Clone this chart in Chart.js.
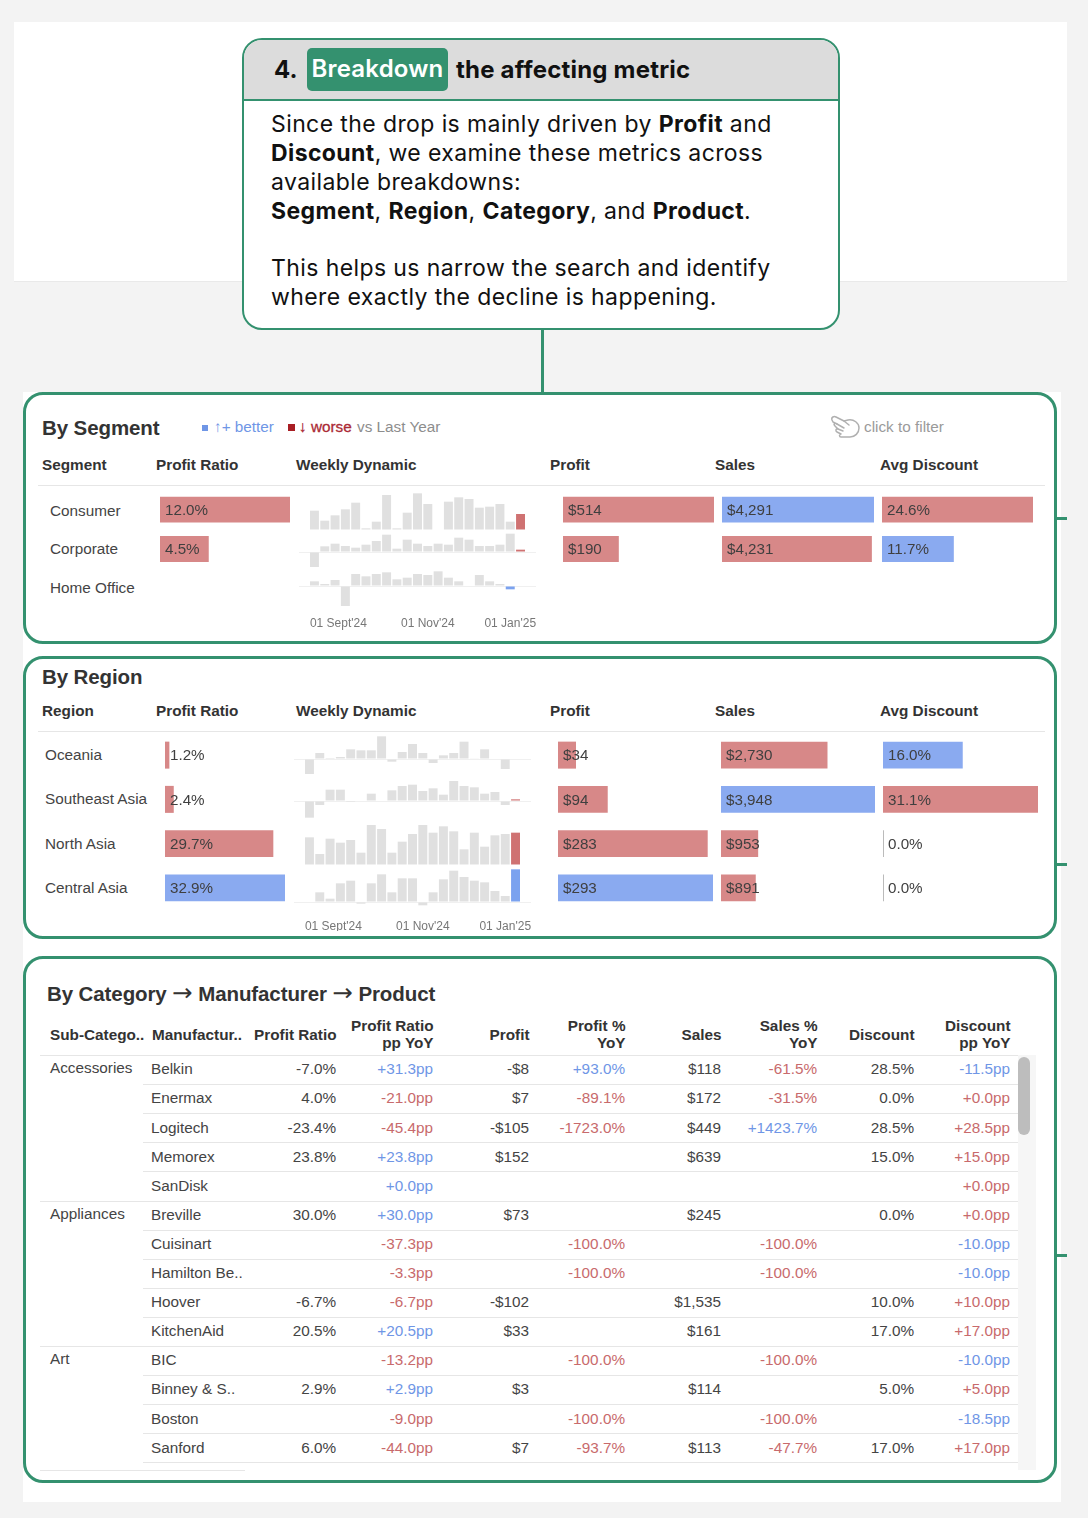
<!DOCTYPE html>
<html>
<head>
<meta charset="utf-8">
<title>Breakdown the affecting metric</title>
<script src="https://cdn.jsdelivr.net/npm/chart.js@4"></script>
<style>
html, body { margin: 0; padding: 0; background: #f3f3f3; }
#page { position: relative; width: 1088px; height: 1518px; overflow: hidden; font-family: "Liberation Sans", Arial, sans-serif; color: #444; }
#page > * { position: absolute; box-sizing: border-box; }
.white { background: #fff; }
.green { background: #34916f; }
.panel { border: 3.5px solid #34916f; border-radius: 20px; left: 23px; width: 1034px; }
#callout { left: 242px; top: 38px; width: 598px; height: 292px; border: 2px solid #34916f; border-radius: 20px; background: #fff; overflow: hidden; font-family: Inter, sans-serif; color: #111; }
#calloutHead { position: absolute; left: 0; top: 0; right: 0; height: 59px; background: #dcdcdc; border-bottom: 2px solid #34916f; font-size: 24px; font-weight: 700; }
#calloutHead span { position: absolute; top: 15px; white-space: nowrap; }
#badge { left: 63px; top: 8px !important; width: 141px; height: 43px; background: #34916f; border-radius: 5px; color: #fff; text-align: center; line-height: 42px; font-weight: 600; letter-spacing: 0.2px; }
#calloutBody { position: absolute; left: 27px; top: 70px; font-size: 23px; line-height: 28.9px; letter-spacing: 0.4px; }
#calloutBody div { height: 28.9px; white-space: nowrap; }
#calloutBody b { font-weight: 700; }
.title { font-weight: 700; font-size: 20.5px; color: #333; white-space: nowrap; letter-spacing: -0.1px; }
.head { font-weight: 700; font-size: 15.3px; color: #333; white-space: nowrap; line-height: 17px; }
.cell { font-size: 15.3px; color: #444; white-space: nowrap; line-height: 18px; }
.rule { background: #e6e6e6; height: 1px; }
.better { color: #6f96e6; }
.worse { color: #c86a6c; }
canvas { display: block; }
</style>
</head>
<body>
<div id="page"></div>
<script>
// week axis, one leading and one trailing empty week
const weekLabels = ["", "", "", "01 Sept'24", "", "", "", "", "", "", "", "", "01 Nov'24", "", "", "", "", "", "", "", "01 Jan'25", "", ""];

// By Segment
const segments = ["Consumer", "Corporate", "Home Office"];
const segmentProfitRatio = [12.0, 4.5, null];
const segmentProfitRatioStatus = ["worse", "worse", null];
const segmentProfit = [514, 190, null];
const segmentProfitStatus = ["worse", "worse", null];
const segmentSales = [4291, 4231, null];
const segmentSalesStatus = ["better", "worse", null];
const segmentDiscount = [24.6, 11.7, null];
const segmentDiscountStatus = ["worse", "better", null];
const segmentCurrentWeek = [21, 21, 20];
const segmentCurrentStatus = ["worse", "worse", "better"];
const weeklyConsumer = [null, 58, 28, 44, 62, 82, 5, 25, 105, 5, 52, 110, 78, null, 85, 98, 93, 67, 70, 78, 25, 48, null];
const weeklyCorporate = [null, -45, 17, 25, 18, 13, 22, 33, 52, 10, 37, 25, 18, 25, 22, 43, 37, 18, 18, 22, 55, 7, null];
const weeklyHomeOffice = [null, 14, 6, 18, -60, 36, 29, 36, 41, 20, 25, 36, 33, 44, 25, 14, null, 33, 14, 6, -10, null, null];

// By Region
const regions = ["Oceania", "Southeast Asia", "North Asia", "Central Asia"];
const regionProfitRatio = [1.2, 2.4, 29.7, 32.9];
const regionProfitRatioStatus = ["worse", "worse", "worse", "better"];
const regionProfit = [34, 94, 283, 293];
const regionProfitStatus = ["worse", "worse", "worse", "better"];
const regionSales = [2730, 3948, 953, 891];
const regionSalesStatus = ["worse", "better", "worse", "worse"];
const regionDiscount = [16.0, 31.1, 0.0, 0.0];
const regionDiscountStatus = ["better", "worse", null, null];
const regionCurrentWeek = [21, 21, 21, 21];
const regionCurrentStatus = ["worse", "worse", "worse", "better"];
const weeklyOceania = [null, -45, 18, 3, 6, 29, 26, 26, 68, -8, 21, 45, 18, -12, 11, 18, 52, 2, 29, null, -30, null, null];
const weeklySoutheastAsia = [null, -50, -12, 34, 34, -3, null, 22, null, 32, 45, 49, 30, 38, 19, 60, 45, 41, 22, 27, -12, 5, null];
const weeklyNorthAsia = [null, 83, 33, 79, 67, 75, 37, 120, 108, 37, 70, 93, 120, 97, 116, 101, 47, 97, 55, 89, 93, 97, null];
const weeklyCentralAsia = [null, null, 29, 10, 56, 64, -5, 56, 83, 29, 71, 71, -10, 29, 68, 94, 75, 64, 59, 33, 18, 98, null];

// By Category -> Manufacturer -> Product
const tableHeaders = ["Profit Ratio", "Profit Ratio\npp YoY", "Profit", "Profit %\nYoY", "Sales", "Sales %\nYoY", "Discount", "Discount\npp YoY"];
const subCategories = ["Accessories", "", "", "", "", "Appliances", "", "", "", "", "Art", "", "", ""];
const manufacturers = ["Belkin", "Enermax", "Logitech", "Memorex", "SanDisk", "Breville", "Cuisinart", "Hamilton Be..", "Hoover", "KitchenAid", "BIC", "Binney & S..", "Boston", "Sanford"];
const profitRatios = ["-7.0%", "4.0%", "-23.4%", "23.8%", "", "30.0%", "", "", "-6.7%", "20.5%", "", "2.9%", "", "6.0%"];
const profitRatioPp = ["+31.3pp", "-21.0pp", "-45.4pp", "+23.8pp", "+0.0pp", "+30.0pp", "-37.3pp", "-3.3pp", "-6.7pp", "+20.5pp", "-13.2pp", "+2.9pp", "-9.0pp", "-44.0pp"];
const profits = ["-$8", "$7", "-$105", "$152", "", "$73", "", "", "-$102", "$33", "", "$3", "", "$7"];
const profitYoY = ["+93.0%", "-89.1%", "-1723.0%", "", "", "", "-100.0%", "-100.0%", "", "", "-100.0%", "", "-100.0%", "-93.7%"];
const sales = ["$118", "$172", "$449", "$639", "", "$245", "", "", "$1,535", "$161", "", "$114", "", "$113"];
const salesYoY = ["-61.5%", "-31.5%", "+1423.7%", "", "", "", "-100.0%", "-100.0%", "", "", "-100.0%", "", "-100.0%", "-47.7%"];
const discounts = ["28.5%", "0.0%", "28.5%", "15.0%", "", "0.0%", "", "", "10.0%", "17.0%", "", "5.0%", "", "17.0%"];
const discountPp = ["-11.5pp", "+0.0pp", "+28.5pp", "+15.0pp", "+0.0pp", "+0.0pp", "-10.0pp", "-10.0pp", "+10.0pp", "+17.0pp", "-10.0pp", "+5.0pp", "-18.5pp", "+17.0pp"];

const calloutLines = [
    "Since the drop is mainly driven by <b>Profit</b> and",
    "<b>Discount</b>, we examine these metrics across",
    "available breakdowns:",
    "<b>Segment</b>, <b>Region</b>, <b>Category</b>, and <b>Product</b>.",
    "",
    "This helps us narrow the search and identify",
    "where exactly the decline is happening."
];

const page = document.getElementById("page");
const barColors = { better: "#8aaaf0", worse: "#d78888" };
const currentWeekColors = { better: "#7ba2ef", worse: "#cf7272" };
const neutralColor = "#bbbbbb";
const weekColor = "#e0e0e0";

function place(tag, cls, left, top, width, height, html) {
    const el = document.createElement(tag);
    if (cls) el.className = cls;
    el.style.left = left + "px";
    el.style.top = top + "px";
    if (width != null) el.style.width = width + "px";
    if (height != null) el.style.height = height + "px";
    if (html != null) el.innerHTML = html;
    page.appendChild(el);
    return el;
}

function addCanvas(left, top, width, height) {
    const c = place("canvas", "", left, top);
    c.width = width;
    c.height = height;
    c.style.width = width + "px";
    c.style.height = height + "px";
    return c;
}

// writes the value inside the bar, just after its base
const barTextPlugin = {
    id: "barText",
    afterDatasetsDraw(chart, args, opts) {
        const ctx = chart.ctx;
        const meta = chart.getDatasetMeta(0);
        ctx.save();
        ctx.font = "15.2px 'Liberation Sans'";
        ctx.fillStyle = "#3f3f3f";
        ctx.textBaseline = "middle";
        meta.data.forEach((bar, i) => {
            const v = chart.data.datasets[0].data[i];
            if (v === null) return;
            ctx.fillText(opts.format(v), bar.base + 5, bar.y + 1);
        });
        ctx.restore();
    }
};

const pct = v => v.toFixed(1) + "%";
const usd = v => "$" + v.toLocaleString("en-US");

function metricChart(left, top, width, height, labels, values, status, format, barShare) {
    new Chart(addCanvas(left, top, width, height), {
        type: "bar",
        data: {
            labels: labels,
            datasets: [{
                data: values,
                backgroundColor: status.map(s => barColors[s] || neutralColor),
                barPercentage: barShare,
                categoryPercentage: 1,
                minBarLength: 1
            }]
        },
        options: {
            indexAxis: "y",
            responsive: false,
            animation: false,
            layout: { padding: 0 },
            plugins: { legend: { display: false }, tooltip: { enabled: false }, barText: { format: format } },
            scales: {
                x: { display: false, min: 0, max: Math.max(...values) },
                y: { display: false }
            }
        },
        plugins: [barTextPlugin]
    });
}

// one row of weekly bars. 3 value units = 1px of the row
function weeklyChart(left, baseline, above, below, values, currentWeek, status, tickPad) {
    const showWeeks = tickPad != null;
    const axisHeight = showWeeks ? 24 : 0;
    const hasNegative = values.some(v => v < 0);
    new Chart(addCanvas(left, baseline - above, 237.7, above + below + axisHeight), {
        type: "bar",
        data: {
            labels: weekLabels,
            datasets: [{
                data: values,
                backgroundColor: values.map((v, i) => i === currentWeek ? currentWeekColors[status] : weekColor),
                barPercentage: 0.87,
                categoryPercentage: 1
            }]
        },
        options: {
            responsive: false,
            animation: false,
            layout: { padding: 0 },
            plugins: { legend: { display: false }, tooltip: { enabled: false } },
            scales: {
                x: {
                    display: showWeeks,
                    grid: { display: false },
                    border: { display: false },
                    afterFit(s) { s.height = axisHeight; },
                    ticks: {
                        autoSkip: false, maxRotation: 0, padding: tickPad,
                        color: "#777", font: { size: 12, family: "Liberation Sans" },
                        // the Sept label sits a little right of its week
                        callback(v, i) { return i === 3 ? "  " + weekLabels[i] : weekLabels[i]; }
                    }
                },
                y: {
                    min: -below * 3,
                    max: above * 3,
                    afterBuildTicks(s) { s.ticks = [{ value: 0 }]; },
                    afterFit(s) { s.width = 0; },
                    ticks: { display: false },
                    border: { display: false },
                    grid: { color: hasNegative ? "#f0f0f0" : "transparent", drawTicks: false }
                }
            }
        }
    });
}

// page furniture
place("div", "white", 14, 22, 1053, 259);
place("div", "", 14, 281, 1053, 1, "").style.background = "#e9e9e9";
place("div", "white", 23, 392, 1038, 1110);
place("div", "green", 540.5, 325, 3, 70);
[518, 864, 1255].forEach(y => place("div", "green", 1056, y - 1, 11, 3));
place("div", "panel", 23, 392, null, 252);
place("div", "panel", 23, 656, null, 283);
place("div", "panel", 23, 956, null, 527);

const callout = place("div", "", 242, 38, 598, 292);
callout.id = "callout";
callout.innerHTML = '<div id="calloutHead"><span style="left:30px">4.</span><span id="badge">Breakdown</span><span style="left:212px;letter-spacing:0.2px">the affecting metric</span></div>' +
    '<div id="calloutBody">' + calloutLines.map(l => "<div>" + l + "</div>").join("") + '</div>';

// By Segment
place("div", "title", 42, 416, null, null, "By Segment");
place("div", "", 202, 425, 6, 6).style.background = "#6f96e6";
place("div", "cell better", 214, 418, null, null, "↑+ better");
place("div", "", 288, 424, 7, 7).style.background = "#a81e24";
place("div", "cell", 299, 418, null, null, "↓ worse").style.cssText += "color:#ab2a35;-webkit-text-stroke:0.3px #ab2a35;";
place("div", "cell", 357, 418, null, null, "vs Last Year").style.color = "#8d8d8d";
place("div", "", 830, 415).innerHTML = '<svg width="31" height="24" viewBox="0 0 31 24" fill="none" stroke="#b0b0b0" stroke-width="1.5" stroke-linejoin="round" stroke-linecap="round"><path d="M2 5 C1 2 4 1 6 2 L14 6 L18 5 C24 4 29 8 29 13 C29 18 25 22 20 22 L11 22 C9 22 9 19 11 19 L7 17 C5 16 6 13 8 14 L5 11 C3 9 5 7 7 9 L3 7 Z"/><path d="M7 9 L14 13 M8 14 L13 16 M14 6 L19 10"/></svg>';
place("div", "cell", 864, 418, null, null, "click to filter").style.color = "#9a9a9a";

function sectionHeads(first, y, ruleY) {
    const cols = [[42, first], [156, "Profit Ratio"], [296, "Weekly Dynamic"], [550, "Profit"], [715, "Sales"], [880, "Avg Discount"]];
    cols.forEach(c => place("div", "head", c[0], y, null, null, c[1]));
    place("div", "rule", 38, ruleY, 1007);
}
sectionHeads("Segment", 456, 485);
segments.forEach((s, i) => place("div", "cell", 50, 501.5 + i * 38.7, null, null, s));
const segTop = 490.4, segH = 118, segShare = 0.655;
metricChart(160, segTop, 130, segH, segments, segmentProfitRatio, segmentProfitRatioStatus, pct, segShare);
metricChart(563, segTop, 151, segH, segments, segmentProfit, segmentProfitStatus, usd, segShare);
metricChart(722, segTop, 152, segH, segments, segmentSales, segmentSalesStatus, usd, segShare);
metricChart(882, segTop, 151, segH, segments, segmentDiscount, segmentDiscountStatus, pct, segShare);
weeklyChart(298.5, 530, 42, 3, weeklyConsumer, segmentCurrentWeek[0], segmentCurrentStatus[0]);
weeklyChart(298.5, 551.7, 21, 18, weeklyCorporate, segmentCurrentWeek[1], segmentCurrentStatus[1]);
weeklyChart(298.5, 586, 16, 21, weeklyHomeOffice, segmentCurrentWeek[2], segmentCurrentStatus[2], 1);

// By Region
place("div", "title", 42, 665, null, null, "By Region");
sectionHeads("Region", 702, 731);
regions.forEach((r, i) => place("div", "cell", 45, 746 + i * 44.3, null, null, r));
const regTop = 733, regH = 177.2, regShare = 0.61;
metricChart(165, regTop, 120, regH, regions, regionProfitRatio, regionProfitRatioStatus, pct, regShare);
metricChart(558, regTop, 155, regH, regions, regionProfit, regionProfitStatus, usd, regShare);
metricChart(721, regTop, 154, regH, regions, regionSales, regionSalesStatus, usd, regShare);
metricChart(883, regTop, 155, regH, regions, regionDiscount, regionDiscountStatus, pct, regShare);
weeklyChart(293.5, 758.7, 25, 16, weeklyOceania, regionCurrentWeek[0], regionCurrentStatus[0]);
weeklyChart(293.5, 800.7, 21, 18, weeklySoutheastAsia, regionCurrentWeek[1], regionCurrentStatus[1]);
weeklyChart(293.5, 865, 42, 2, weeklyNorthAsia, regionCurrentWeek[2], regionCurrentStatus[2]);
weeklyChart(293.5, 902, 33, 5, weeklyCentralAsia, regionCurrentWeek[3], regionCurrentStatus[3], 4);

// By Category table
const bigArrow = '<span style="font-family:\'DejaVu Sans\';font-size:24.4px;font-weight:400;line-height:20px">→</span>';
place("div", "title", 47, 982, null, null, "By Category " + bigArrow + " Manufacturer " + bigArrow + " Product");
place("div", "head", 50, 1026, null, null, "Sub-Catego..");
place("div", "head", 152, 1026, null, null, "Manufactur..");
const colRight = [336, 433, 529, 625, 721, 817, 914, 1010];
tableHeaders.forEach((h, i) => {
    const two = h.includes("\n");
    const el = place("div", "head", colRight[i] - 119.5, two ? 1017 : 1026, 120, null, h.replace("\n", "<br>"));
    el.style.textAlign = "right";
});

const rowTop = 1055, rowH = 29.1;
place("div", "", 1018, rowTop, 18, 415).style.background = "#f6f6f6";
place("div", "", 1018, 1057, 11.5, 78).style.cssText += "background:#bdbdbd;border-radius:6px;";
place("div", "rule", 40, rowTop, 978);
const columns = [profitRatios, profitRatioPp, profits, profitYoY, sales, salesYoY, discounts, discountPp];
manufacturers.forEach((m, i) => {
    const y = rowTop + i * rowH;
    const newGroup = subCategories[i] !== "";
    if (i > 0) place("div", "rule", newGroup ? 40 : 143, y, newGroup ? 978 : 875);
    if (newGroup) place("div", "cell", 50, y + 4, null, null, subCategories[i]);
    place("div", "cell", 151, y + 5.3, null, null, m);
    columns.forEach((col, c) => {
        const txt = col[i];
        if (!txt) return;
        const el = place("div", "cell", colRight[c] - 100, y + 5.3, 100, null, txt);
        el.style.textAlign = "right";
        if (c === 1 || c === 3 || c === 5) el.classList.add(txt[0] === "+" ? "better" : "worse");
        if (c === 7) el.classList.add(txt[0] === "-" ? "better" : "worse");
    });
});
place("div", "rule", 143, rowTop + 14 * rowH, 875);
place("div", "rule", 40, 1470, 205);
</script>
</body>
</html>
